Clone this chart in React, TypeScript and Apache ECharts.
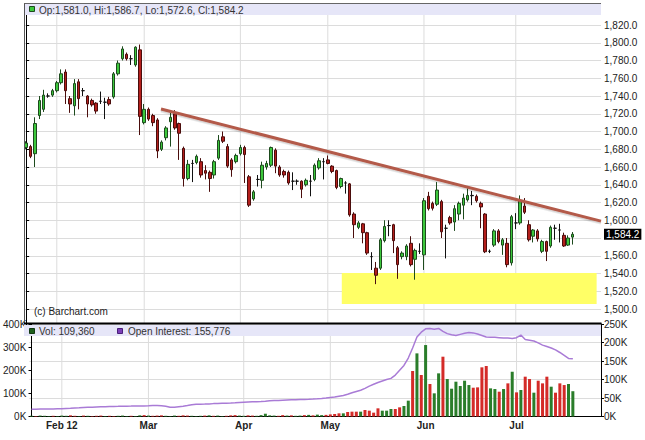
import React, { useEffect, useRef } from 'react';
import * as echarts from 'echarts';

// ---------- data ----------
// daily candles: [open, high, low, close]
const ohlc: number[][] = [
  [1682, 1689, 1680, 1687], [1683, 1685, 1670, 1672], [1675, 1716, 1660, 1709], [1718, 1740, 1714, 1735],
  [1725, 1747, 1722, 1741], [1740, 1743, 1738, 1740], [1741, 1748, 1739, 1746], [1746, 1757, 1744, 1755],
  [1755, 1770, 1753, 1765], [1767, 1770, 1731, 1746], [1737, 1740, 1721, 1731], [1729, 1759, 1718, 1754],
  [1756, 1759, 1725, 1737], [1746, 1749, 1740, 1746], [1740, 1741, 1716, 1731], [1735, 1737, 1728, 1730],
  [1732, 1733, 1720, 1723], [1734, 1745, 1731, 1734], [1733, 1738, 1714, 1733], [1736, 1739, 1729, 1731],
  [1739, 1767, 1737, 1765], [1765, 1780, 1763, 1777], [1782, 1796, 1780, 1793], [1787, 1789, 1780, 1782],
  [1782, 1786, 1775, 1782], [1775, 1796, 1773, 1795], [1792, 1798, 1696, 1717], [1710, 1731, 1708, 1725],
  [1725, 1727, 1712, 1714], [1718, 1720, 1706, 1710], [1713, 1715, 1670, 1678], [1680, 1690, 1678, 1688],
  [1693, 1706, 1690, 1704], [1711, 1721, 1683, 1716], [1720, 1724, 1702, 1704], [1709, 1710, 1668, 1698],
  [1681, 1683, 1638, 1647], [1647, 1668, 1645, 1663], [1664, 1668, 1643, 1664], [1665, 1674, 1663, 1672],
  [1666, 1670, 1648, 1651], [1656, 1662, 1646, 1653], [1654, 1656, 1632, 1647], [1651, 1668, 1647, 1666],
  [1670, 1696, 1668, 1690], [1694, 1700, 1687, 1689], [1683, 1686, 1659, 1661], [1668, 1670, 1649, 1657],
  [1666, 1675, 1664, 1673], [1675, 1685, 1673, 1682], [1682, 1684, 1642, 1674], [1649, 1651, 1615, 1617],
  [1624, 1634, 1622, 1632], [1646, 1651, 1638, 1646], [1645, 1666, 1636, 1662], [1660, 1667, 1657, 1664],
  [1662, 1683, 1660, 1682], [1679, 1681, 1653, 1661], [1660, 1662, 1649, 1651], [1655, 1657, 1648, 1651],
  [1654, 1656, 1640, 1642], [1644, 1654, 1634, 1644], [1644, 1646, 1640, 1644], [1644, 1645, 1625, 1635],
  [1640, 1647, 1638, 1645], [1644, 1651, 1627, 1644], [1646, 1664, 1644, 1662], [1659, 1670, 1657, 1667],
  [1666, 1670, 1646, 1666], [1668, 1673, 1663, 1664], [1661, 1662, 1653, 1655], [1656, 1657, 1635, 1637],
  [1638, 1648, 1636, 1647], [1642, 1644, 1630, 1642], [1641, 1642, 1604, 1606], [1607, 1609, 1580, 1595],
  [1592, 1599, 1590, 1597], [1596, 1597, 1574, 1586], [1586, 1587, 1561, 1563], [1559, 1564, 1544, 1559],
  [1546, 1553, 1528, 1538], [1546, 1580, 1544, 1578], [1577, 1600, 1575, 1593], [1594, 1600, 1582, 1594],
  [1595, 1596, 1563, 1577], [1569, 1571, 1534, 1550], [1559, 1565, 1556, 1563], [1559, 1573, 1555, 1571],
  [1574, 1582, 1548, 1550], [1556, 1568, 1533, 1566], [1565, 1574, 1562, 1565], [1561, 1625, 1544, 1622],
  [1627, 1632, 1611, 1613], [1619, 1621, 1611, 1613.5], [1618, 1643, 1616, 1634], [1621, 1623, 1580, 1587],
  [1591, 1595, 1557, 1591], [1603, 1605, 1595, 1597], [1598, 1617, 1588, 1613], [1607, 1621, 1600, 1619],
  [1617, 1630, 1601, 1625], [1623, 1636, 1621, 1628], [1628, 1633, 1617, 1627.6], [1627, 1629, 1620, 1622],
  [1619, 1621, 1591, 1615], [1607, 1608, 1563, 1564.5], [1565, 1567, 1563, 1565], [1572, 1590, 1570, 1588],
  [1588, 1590, 1574, 1576], [1572, 1580, 1561, 1578], [1574, 1580, 1547, 1550], [1552, 1606, 1549, 1604],
  [1597, 1608, 1590, 1597], [1597, 1628, 1595, 1622], [1616, 1625, 1607, 1609], [1595, 1600, 1576, 1578],
  [1582, 1590, 1575, 1589], [1588, 1590, 1576, 1579], [1565, 1578, 1563, 1576], [1576, 1577, 1554, 1565],
  [1571, 1594, 1569, 1592], [1591, 1595, 1578, 1591], [1589, 1596, 1575, 1589], [1583, 1586, 1570, 1571],
  [1572, 1583, 1571, 1580], [1581.0, 1586.7, 1572.6, 1584.2],
];

// daily volume, thousands of contracts
const volumeK: number[] = [
  3, 2, 4, 3, 2, 3, 2, 4, 3, 5,
  3, 2, 4, 3, 2, 3, 4, 2, 3, 2,
  3, 4, 2, 3, 2, 5, 6, 4, 3, 4,
  5, 3, 2, 4, 3, 5, 4, 3, 2, 3,
  4, 5, 3, 4, 2, 3, 5, 6, 4, 3,
  5, 4, 3, 6, 12, 5, 4, 3, 6, 4,
  5, 3, 4, 6, 7, 5, 8, 6, 7, 9,
  10.8, 13.7, 13.7, 19.5, 20.9, 20.9, 20.9, 28.1, 25.2, 16.6,
  35.3, 25.2, 25.2, 32.4, 32.4, 39.6, 45.4, 68.5, 196.7, 273,
  179.4, 309, 140.5, 100.2, 186.6, 258.6, 162, 120.2, 150.5, 131.8,
  154.8, 136, 124.5, 126, 212.6, 218.4, 121.7, 118.8, 107.3, 118.8,
  143.3, 193.8, 104.4, 114.5, 172.2, 162, 103, 154.8, 143.3, 172.2,
  128.9, 103, 143.3, 136, 140.5, 109.36,
];

// open interest, thousands of contracts
const openInterestK: number[] = [
  19.5, 19.7, 20, 20.2, 20.5, 20.6, 20.9, 21.2, 21.8, 22.3,
  23, 23.5, 24.2, 24.8, 25.2, 25.8, 26.3, 26.5, 26.9, 27.3,
  27.5, 27.8, 28, 28.1, 28.3, 28.4, 28.6, 29, 29.5, 30,
  29.2, 27.5, 25.2, 25, 26.5, 27.8, 29.5, 31.5, 32.8, 33.2,
  33.5, 34, 34.8, 35.2, 35.6, 36, 36.4, 37, 37.8, 38.6,
  39.2, 39.6, 40, 40.6, 41.3, 42.5, 43, 43.5, 44.2, 44.6,
  45, 45.3, 45.8, 46, 46.4, 47, 47.8, 48.8, 50, 51.5,
  53, 55, 57, 60, 64, 67.5, 71, 76, 82, 87,
  92, 96, 100, 103, 112, 125, 138, 158, 185, 215,
  228, 237, 238, 236, 238, 230, 224, 221, 219, 222,
  225, 227, 226, 223, 219, 215, 214, 214, 213, 212,
  212, 211, 213, 220, 208, 206, 204, 199, 193, 189,
  185, 180, 173, 165, 157, 155.776,
];

const monthIdx = [7, 27, 49, 69, 91, 112];
const monthText = ['Feb 12', 'Mar', 'Apr', 'May', 'Jun', 'Jul'];

// resistance trend line and support zone: [day index, price]
const trendLine = [[30.84, 1725.4], [131.5, 1599]];
const supportZone = [[72.2, 1540.5], [130.5, 1505.5]];

const PRICE_MIN = 1480;
const PRICE_MAX = 1840;
const PRICE_STEP = 20;
const PRICE_LABEL_MIN = 1500;
const PRICE_LABEL_MAX = 1820;
const VOL_MAX = 400000;
const VOL_STEP = 100000;
const OI_MAX = 250000;
const OI_STEP = 50000;
const SLOTS = 132; // trading-day slots on the x axis (incl. empty right margin)

// ---------- styles ----------
const FONT = '"Liberation Sans", Arial, Helvetica, sans-serif';
const UP_FILL = '#3cc83c';
const UP_BORDER = '#1d4a1d';
const DOWN_FILL = '#b41f1c';
const DOWN_BORDER = '#4a0d0c';
const VOL_UP = '#2a7d2a';
const VOL_DOWN = '#d42b28';
const OI_COLOR = '#a97bd6';
const GRID_COLOR = '#dcdcdc';
const BAND = '#e6e6f8';

const fmtPrice = (v: number) =>
  v.toLocaleString('en-US', { minimumFractionDigits: 1, maximumFractionDigits: 1 });
const fmtK = (v: number) => `${Math.round(v / 1000)}K`;

export default function App() {
  const ref = useRef<HTMLDivElement>(null);

  useEffect(() => {
    if (!ref.current) return;
    const chart = echarts.init(ref.current, undefined, { renderer: 'svg' });

    const slots = Array.from({ length: SLOTS }, (_, i) => String(i));
    const last = ohlc[ohlc.length - 1];
    const lastVol = Math.round(volumeK[volumeK.length - 1] * 1000);
    const lastOI = Math.round(openInterestK[openInterestK.length - 1] * 1000);

    const candleData = ohlc.map(([o, h, l, c]) => {
      const item: any = { value: [o, c, l, h] };
      if (Math.abs(o - c) < 0.8) {
        item.itemStyle = { color: '#111', color0: '#111', borderColor: '#111', borderColor0: '#111' };
      }
      return item;
    });

    const volData = volumeK.map((v, i) => ({
      value: Math.round(v * 1000),
      itemStyle: { color: i === 0 || ohlc[i][3] >= ohlc[i - 1][3] ? VOL_UP : VOL_DOWN },
    }));

    const oiData = openInterestK.map((v) => Math.round(v * 1000));

    const priceVLines = monthIdx.flatMap((i) => [[i, PRICE_MIN], [i, PRICE_MAX], [i, null]]);
    const volVLines = monthIdx.flatMap((i) => [[i, 0], [i, OI_MAX], [i, null]]);

    const priceTicks: number[] = [];
    for (let p = PRICE_LABEL_MIN; p <= PRICE_LABEL_MAX; p += PRICE_STEP) priceTicks.push(p);
    // the last-price flag replaces the grid label next to it
    const priceLabels = priceTicks.filter((p) => Math.abs(p - last[3]) >= PRICE_STEP / 2);

    const axisText = { fontSize: 10, color: '#222', fontFamily: FONT };

    const option: any = {
      animation: false,
      textStyle: { fontFamily: FONT },
      grid: [
        { left: 24, top: 7.25, width: 577, height: 319.5 },
        { left: 24, top: 324, width: 577, height: 92.5 },
      ],
      xAxis: [
        { type: 'category', gridIndex: 0, data: slots, boundaryGap: true, show: false },
        { type: 'value', gridIndex: 0, min: -0.5, max: SLOTS - 0.5, show: false },
        {
          type: 'category', gridIndex: 1, data: slots, boundaryGap: true,
          axisLine: { lineStyle: { color: '#000', width: 1 } },
          axisTick: { show: false },
          splitLine: { show: false },
          axisLabel: {
            interval: (idx: number) => monthIdx.includes(idx),
            formatter: (_v: string, idx: number) => {
              const k = monthIdx.indexOf(idx);
              return k >= 0 ? monthText[k] : '';
            },
            fontWeight: 'bold', fontSize: 10, color: '#222', margin: 4, fontFamily: FONT,
          },
        },
        { type: 'value', gridIndex: 1, min: -0.5, max: SLOTS - 0.5, show: false },
      ],
      yAxis: [
        {
          type: 'value', gridIndex: 0, position: 'right',
          min: PRICE_MIN, max: PRICE_MAX, interval: PRICE_STEP,
          axisLine: { show: true, lineStyle: { color: '#000' } },
          axisTick: { show: true, length: 3, lineStyle: { color: '#000' }, customValues: priceTicks },
          axisLabel: {
            ...axisText, margin: 3, customValues: priceLabels,
            formatter: (v: number) => (priceLabels.includes(v) ? fmtPrice(v) : ''),
          },
          splitLine: { show: true, lineStyle: { color: GRID_COLOR, width: 1 } },
        },
        {
          type: 'value', gridIndex: 1, position: 'left',
          min: 0, max: VOL_MAX, interval: VOL_STEP,
          axisLine: { show: true, lineStyle: { color: '#000' } },
          axisTick: { show: true, length: 3, lineStyle: { color: '#000' } },
          axisLabel: { ...axisText, margin: 3, formatter: fmtK },
          splitLine: { show: false },
        },
        {
          type: 'value', gridIndex: 1, position: 'right',
          min: 0, max: OI_MAX, interval: OI_STEP,
          axisLine: { show: true, lineStyle: { color: '#000' } },
          axisTick: { show: true, length: 3, lineStyle: { color: '#000' } },
          axisLabel: { ...axisText, margin: 3, formatter: fmtK },
          splitLine: { show: true, lineStyle: { color: GRID_COLOR, width: 1 } },
        },
      ],
      series: [
        {
          name: 'month lines price', type: 'line', xAxisIndex: 1, yAxisIndex: 0,
          data: priceVLines, showSymbol: false, symbol: 'none', silent: true, z: 0.5,
          connectNulls: false, lineStyle: { color: GRID_COLOR, width: 1 },
        },
        {
          name: 'support zone', type: 'line', xAxisIndex: 1, yAxisIndex: 0,
          data: supportZone, symbol: 'none', silent: true, z: 1,
          lineStyle: { width: 0, opacity: 0 },
          markArea: {
            silent: true, z: 1,
            itemStyle: { color: '#ffff66' },
            data: [[{ coord: supportZone[0] }, { coord: supportZone[1] }]],
          },
        },
        {
          name: 'price', type: 'candlestick', xAxisIndex: 0, yAxisIndex: 0,
          data: candleData, barWidth: 3, z: 2,
          itemStyle: {
            color: UP_FILL, color0: DOWN_FILL, borderColor: UP_BORDER, borderColor0: DOWN_BORDER, borderWidth: 1,
          },
          markLine: {
            silent: true, symbol: ['none', 'none'],
            lineStyle: { color: 'rgba(0,0,0,0)', width: 0 },
            label: {
              show: true, position: 'end', distance: 3,
              formatter: () => fmtPrice(last[3]),
              backgroundColor: '#000', color: '#fff', fontSize: 10, fontFamily: FONT,
              padding: [1, 2, 0, 2],
            },
            data: [{ yAxis: last[3] }],
          },
        },
        {
          name: 'trend', type: 'line', xAxisIndex: 1, yAxisIndex: 0,
          data: trendLine, symbol: 'none', silent: true, z: 3,
          lineStyle: {
            color: '#b35a4a', width: 3,
            shadowColor: 'rgba(0,0,0,0.18)', shadowOffsetY: 1.5, shadowBlur: 1,
          },
        },
        {
          name: 'month lines volume', type: 'line', xAxisIndex: 3, yAxisIndex: 2,
          data: volVLines, symbol: 'none', silent: true, z: 0.5,
          connectNulls: false, lineStyle: { color: GRID_COLOR, width: 1 },
        },
        {
          name: 'Vol', type: 'bar', xAxisIndex: 2, yAxisIndex: 1,
          data: volData, barWidth: 3, z: 2,
        },
        {
          name: 'Open Interest', type: 'line', xAxisIndex: 2, yAxisIndex: 2,
          data: oiData, symbol: 'none', z: 4,
          lineStyle: { color: OI_COLOR, width: 1.5 },
        },
      ],
      graphic: [
        { type: 'rect', z: 3, shape: { x: 24, y: 4, width: 577, height: 11 }, style: { fill: BAND } },
        { type: 'line', z: 3, shape: { x1: 24, y1: 3.5, x2: 601, y2: 3.5 }, style: { stroke: '#666', lineWidth: 1 } },
        { type: 'line', z: 3, shape: { x1: 24.5, y1: 3.5, x2: 24.5, y2: 324 }, style: { stroke: '#555', lineWidth: 1 } },
        { type: 'rect', z: 3, shape: { x: 24, y: 325, width: 577, height: 11 }, style: { fill: BAND } },
        { type: 'line', z: 5, shape: { x1: 24, y1: 323.5, x2: 601.5, y2: 323.5 }, style: { stroke: '#000', lineWidth: 2 } },
        {
          type: 'rect', z: 6, shape: { x: 29.5, y: 6.5, width: 5, height: 5 },
          style: { fill: UP_FILL, stroke: UP_BORDER, lineWidth: 1 },
        },
        {
          type: 'text', z: 6, x: 39, y: 10,
          style: {
            text: `Op:${fmtPrice(last[0])}, Hi:${fmtPrice(last[1])}, Lo:${fmtPrice(last[2])}, Cl:${fmtPrice(last[3])}`,
            fill: '#333', fontSize: 10, fontFamily: FONT, verticalAlign: 'middle',
          },
        },
        {
          type: 'text', z: 6, x: 34, y: 311,
          style: { text: '(c) Barchart.com', fill: '#222', fontSize: 10, fontFamily: FONT, verticalAlign: 'middle' },
        },
        {
          type: 'rect', z: 6, shape: { x: 29.5, y: 328.5, width: 5, height: 5 },
          style: { fill: '#1d5e1d', stroke: '#123812', lineWidth: 1 },
        },
        {
          type: 'text', z: 6, x: 39, y: 331.5,
          style: { text: `Vol: ${lastVol.toLocaleString('en-US')}`, fill: '#333', fontSize: 10, fontFamily: FONT, verticalAlign: 'middle' },
        },
        {
          type: 'rect', z: 6, shape: { x: 117.5, y: 328.5, width: 5, height: 5 },
          style: { fill: '#7b3fb8', stroke: '#4a1f7a', lineWidth: 1 },
        },
        {
          type: 'text', z: 6, x: 128, y: 331.5,
          style: { text: `Open Interest: ${lastOI.toLocaleString('en-US')}`, fill: '#333', fontSize: 10, fontFamily: FONT, verticalAlign: 'middle' },
        },
      ],
    };

    chart.setOption(option);
    return () => chart.dispose();
  }, []);

  return (
    <div
      ref={ref}
      style={{ position: 'fixed', left: 0, top: 0, width: 645, height: 440, background: '#fff' }}
    />
  );
}
